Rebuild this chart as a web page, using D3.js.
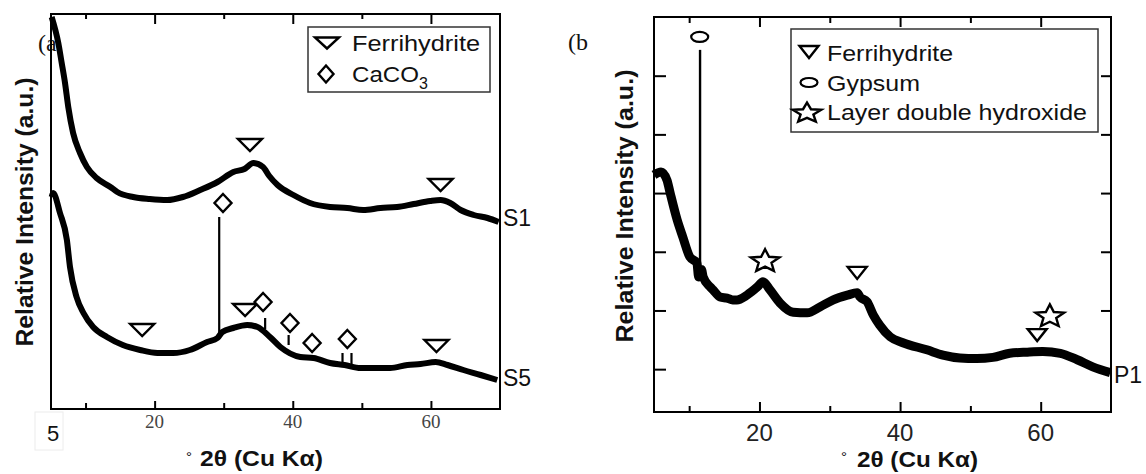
<!DOCTYPE html>
<html>
<head>
<meta charset="utf-8">
<script src="https://cdn.jsdelivr.net/npm/d3@7/dist/d3.min.js"></script>
<style>
body{margin:0;background:#fff;}
text{font-family:"Liberation Sans",Arial,sans-serif;fill:#111;}
</style>
</head>
<body>
<div id="chart"></div>
<script>
// ---- data ----
// panel (a): two XRD traces, 2theta in degrees, intensity in a.u. (offset traces)
var s1Theta  = [5.1, 6.06, 6.55, 7.03, 7.5, 8.2, 9.2, 10.2, 11.6, 13.6, 14.6, 16.9, 19.3, 21.8, 24.1, 26.6, 29.1, 31.4, 33.0, 34.3, 35.7, 36.6, 37.8, 40.1, 42.5, 45.4, 47.9, 50.2, 52.7, 55.1, 57.5, 59.9, 61.4, 62.8, 64.3, 66.2, 68.2, 69.8];
var s1Counts = [392, 366, 346, 326, 302, 276, 256, 242, 231, 222, 217, 212, 210, 209, 212, 219, 227, 237, 240, 246, 242, 233, 224, 214, 206, 202, 201, 199, 201, 202, 205, 208, 209, 206, 199, 194, 191, 187];

var s5Theta  = [5.1, 5.3, 6.3, 7.3, 7.75, 8.7, 9.7, 11.1, 13.1, 15.4, 17.9, 20.4, 22.7, 25.1, 27.6, 29.1, 29.8, 31.4, 33.4, 34.9, 36.7, 38.2, 41.1, 43.0, 45.4, 47.5, 49.8, 51.7, 54.1, 56.6, 58.5, 60.7, 62.4, 64.7, 67.2, 69.6];
var s5Counts = [212, 216, 196, 169, 142, 112, 96, 82, 72, 64, 59, 56, 56, 59, 67, 71, 77, 81, 84, 82, 72, 62, 52, 51, 46, 44, 41, 41, 41, 44, 45, 47, 44, 39, 34, 29];
// sharp calcite reflections on S5: position, foot, top
var s5PeakTheta = [29.35, 36.0, 39.4, 47.2, 48.5];
var s5PeakBase  = [72, 80, 64, 44, 43];
var s5PeakTop   = [192, 91, 74, 56, 56];

// panel (b): P1 trace, counts
var p1Theta  = [5.0, 6.0, 6.85, 7.3, 8.3, 9.1, 10.1, 11.1, 11.35, 11.75, 12.0, 13.0, 13.4, 14.4, 15.4, 16.2, 16.8, 18.2, 19.7, 20.5, 21.5, 22.9, 24.8, 26.8, 28.6, 30.5, 32.5, 33.9, 34.3, 35.3, 36.2, 37.1, 38.6, 40.4, 43.8, 46.1, 48.5, 50.9, 53.2, 55.6, 58.1, 60.3, 62.8, 65.2, 67.4, 69.9];
var p1Counts = [4310, 4360, 4220, 4000, 3540, 3250, 2910, 2810, 2570, 2700, 2570, 2400, 2350, 2230, 2210, 2180, 2180, 2260, 2400, 2490, 2350, 2130, 1970, 1960, 2060, 2180, 2260, 2300, 2230, 2150, 1920, 1750, 1550, 1450, 1330, 1240, 1190, 1180, 1200, 1270, 1290, 1300, 1270, 1160, 1040, 940];
// gypsum reflection
var p1PeakTheta = [11.55];
var p1PeakBase  = [2750];
var p1PeakTop   = [6440];

// phase markers: kind, 2theta, height
var markTypeA  = ["tri", "tri", "dia", "tri", "tri", "dia", "dia", "dia", "dia", "tri"];
var markThetaA = [33.8, 61.4, 29.9, 18.2, 33.1, 35.7, 39.6, 42.8, 47.9, 60.8];
var markLevelA = [264, 224, 206, 79, 99, 107, 86, 66, 70, 63];

var markTypeB  = ["oval", "star", "tri", "tri", "star"];
var markThetaB = [11.5, 20.8, 33.9, 59.5, 61.3];
var markLevelB = [6660, 2860, 2640, 1580, 1920];

// axes and labels
var xMajorTicks = [20, 40, 60];
var xMinorTicks = [10, 30, 50];
var yTicksB = [1000, 2000, 3000, 4000, 5000, 6000];
var legendTypeA = ["tri", "dia"];
var legendTextA = ["Ferrihydrite", "CaCO"];
var legendTypeB = ["tri", "oval", "star"];
var legendTextB = ["Ferrihydrite", "Gypsum", "Layer double hydroxide"];

// ---- drawing ----
var svg = d3.select("#chart").append("svg")
    .attr("width", 1146)
    .attr("height", 474);

var xA = d3.scaleLinear().domain([5, 70]).range([51, 500]);
var yA = d3.scaleLinear().domain([0, 395]).range([409, 14]);
var xB = d3.scaleLinear().domain([5, 70]).range([654, 1111]);
var yB = d3.scaleLinear().domain([270, 7000]).range([412, 17]);

function zip(a, b) {
    return a.map(function(d, i) { return [d, b[i]]; });
}

function markerPath(type, w, h) {
    if (type == "tri") {
        return "M" + (-w/2) + "," + (-h/2) + "L" + (w/2) + "," + (-h/2) + "L0," + (h/2) + "Z";
    }
    if (type == "dia") {
        return "M0," + (-h/2) + "L" + (w/2) + ",0L0," + (h/2) + "L" + (-w/2) + ",0Z";
    }
    // star, stretched sideways like the original figure
    var pts = [];
    for (var i = 0; i < 10; i++) {
        var a = -Math.PI/2 + i*Math.PI/5;
        var r = (i % 2 == 0) ? h/2 : h/2*0.45;
        pts.push([Math.cos(a)*r*(w/h), Math.sin(a)*r + h*0.05]);
    }
    return "M" + pts.join("L") + "Z";
}

function drawMarker(g, type, cx, cy, w, h) {
    if (type == "oval") {
        g.append("ellipse")
            .attr("cx", cx).attr("cy", cy)
            .attr("rx", w/2).attr("ry", h/2)
            .attr("fill", "#fff").attr("stroke", "#000").attr("stroke-width", 2.2);
        return;
    }
    g.append("path")
        .attr("d", markerPath(type, w, h))
        .attr("transform", "translate(" + cx + "," + cy + ")")
        .attr("fill", "#fff")
        .attr("stroke", "#000")
        .attr("stroke-width", 2.4)
        .attr("stroke-linejoin", "miter");
}

function tickAxis(g, axis, y, size) {
    g.append("g")
        .attr("transform", "translate(0," + y + ")")
        .call(axis.tickSize(size))
        .call(function(s) { s.select(".domain").remove(); })
        .selectAll("line").attr("stroke", "#000").attr("stroke-width", 2);
}

// ===== panel (a) =====
var ga = svg.append("g").attr("class", "panel-a");

ga.append("text")
    .attr("x", 38).attr("y", 51)
    .style("font-family", "'Liberation Serif',serif")
    .style("font-size", "24px")
    .text("(a");

// ticks, inward on bottom and top
tickAxis(ga, d3.axisBottom(xA).tickValues(xMajorTicks).tickFormat(""), 409, -8);
tickAxis(ga, d3.axisBottom(xA).tickValues(xMinorTicks).tickFormat(""), 409, -6);
tickAxis(ga, d3.axisTop(xA).tickValues(xMajorTicks).tickFormat(""), 14, -10);
tickAxis(ga, d3.axisTop(xA).tickValues(xMinorTicks).tickFormat(""), 14, -5);

ga.selectAll(".xlab")
    .data(xMajorTicks)
    .enter()
    .append("text")
    .attr("x", function(d) { return xA(d); })
    .attr("y", 428)
    .attr("text-anchor", "middle")
    .style("font-family", "'Liberation Serif',serif")
    .style("font-size", "19px")
    .style("fill", "#444")
    .text(function(d) { return d; });

// the pasted "5" at the left end of the axis
ga.append("rect")
    .attr("x", 35).attr("y", 412).attr("width", 28).attr("height", 38)
    .attr("fill", "none").attr("stroke", "#ececec").attr("stroke-width", 1);
ga.append("text")
    .attr("x", xA(5) + 2).attr("y", 441)
    .attr("text-anchor", "middle")
    .style("font-size", "22px")
    .text("5");

var lineA = d3.line()
    .curve(d3.curveMonotoneX)
    .x(function(d) { return xA(d[0]); })
    .y(function(d) { return yA(d[1]); });

ga.append("path")
    .datum(zip(s1Theta, s1Counts))
    .attr("d", lineA)
    .attr("fill", "none").attr("stroke", "#000")
    .attr("stroke-width", 6).attr("stroke-linejoin", "round");

ga.append("path")
    .datum(zip(s5Theta, s5Counts))
    .attr("d", lineA)
    .attr("fill", "none").attr("stroke", "#000")
    .attr("stroke-width", 6).attr("stroke-linejoin", "round");

s5PeakTheta.forEach(function(t, i) {
    ga.append("line")
        .attr("x1", xA(t)).attr("x2", xA(t))
        .attr("y1", yA(s5PeakBase[i])).attr("y2", yA(s5PeakTop[i]))
        .attr("stroke", "#000").attr("stroke-width", 2.2);
});

markTypeA.forEach(function(type, i) {
    if (type == "tri") drawMarker(ga, type, xA(markThetaA[i]), yA(markLevelA[i]), 24, 12);
    else drawMarker(ga, type, xA(markThetaA[i]), yA(markLevelA[i]), 17, 18);
});

// frame
ga.append("rect")
    .attr("x", xA(5)).attr("y", yA(395))
    .attr("width", xA(70) - xA(5)).attr("height", yA(0) - yA(395))
    .attr("fill", "none").attr("stroke", "#000").attr("stroke-width", 2);

ga.append("text").attr("x", 503).attr("y", 226).style("font-size", "23px").text("S1");
ga.append("text").attr("x", 503).attr("y", 386).style("font-size", "23px").text("S5");

// legend
ga.append("rect")
    .attr("x", 308).attr("y", 27).attr("width", 182).attr("height", 65)
    .attr("fill", "#fff").attr("stroke", "#333").attr("stroke-width", 1.5);
legendTypeA.forEach(function(type, i) {
    var cy = 43 + i*31;
    if (type == "tri") drawMarker(ga, type, 327, cy, 24, 11);
    else drawMarker(ga, type, 326, cy, 15, 17);
    var t = ga.append("text").attr("x", 352).attr("y", cy + 8).style("font-size", "22px");
    if (i == 0) {
        t.attr("textLength", 128).attr("lengthAdjust", "spacingAndGlyphs").text(legendTextA[i]);
    } else {
        t.append("tspan").attr("textLength", 67).attr("lengthAdjust", "spacingAndGlyphs").text(legendTextA[i]);
        t.append("tspan").attr("dy", 7).style("font-size", "16px").text("3");
    }
});

// axis titles
ga.append("text")
    .attr("transform", "translate(33,212) rotate(-90)")
    .attr("text-anchor", "middle")
    .attr("textLength", 269).attr("lengthAdjust", "spacingAndGlyphs")
    .style("font-size", "24px").style("font-weight", "bold")
    .text("Relative Intensity (a.u.)");
ga.append("text")
    .attr("x", 186).attr("y", 462)
    .style("font-size", "15px")
    .text("°");
ga.append("text")
    .attr("x", 200).attr("y", 466)
    .attr("textLength", 123).attr("lengthAdjust", "spacingAndGlyphs")
    .style("font-size", "22px").style("font-weight", "bold")
    .text("2θ (Cu Kα)");

// ===== panel (b) =====
var gb = svg.append("g").attr("class", "panel-b");

gb.append("text")
    .attr("x", 568).attr("y", 50)
    .style("font-family", "'Liberation Serif',serif")
    .style("font-size", "24px")
    .text("(b");

tickAxis(gb, d3.axisBottom(xB).tickValues(xMajorTicks).tickFormat(""), 412, -10);
tickAxis(gb, d3.axisBottom(xB).tickValues(xMinorTicks).tickFormat(""), 412, -6);
tickAxis(gb, d3.axisTop(xB).tickValues(xMajorTicks).tickFormat(""), 17, -10);
tickAxis(gb, d3.axisTop(xB).tickValues(xMinorTicks).tickFormat(""), 17, -6);

gb.append("g")
    .attr("transform", "translate(" + xB(5) + ",0)")
    .call(d3.axisLeft(yB).tickValues(yTicksB).tickSize(-12).tickFormat(""))
    .call(function(s) { s.select(".domain").remove(); })
    .selectAll("line").attr("stroke", "#000").attr("stroke-width", 2);
gb.append("g")
    .attr("transform", "translate(" + xB(70) + ",0)")
    .call(d3.axisRight(yB).tickValues(yTicksB).tickSize(-10).tickFormat(""))
    .call(function(s) { s.select(".domain").remove(); })
    .selectAll("line").attr("stroke", "#000").attr("stroke-width", 2);

gb.selectAll(".xlab")
    .data(xMajorTicks)
    .enter()
    .append("text")
    .attr("x", function(d) { return xB(d); })
    .attr("y", 441)
    .attr("text-anchor", "middle")
    .style("font-size", "24px")
    .style("fill", "#222")
    .text(function(d) { return d; });

var lineB = d3.line()
    .curve(d3.curveMonotoneX)
    .x(function(d) { return xB(d[0]); })
    .y(function(d) { return yB(d[1]); });

p1PeakTheta.forEach(function(t, i) {
    gb.append("line")
        .attr("x1", xB(t)).attr("x2", xB(t))
        .attr("y1", yB(p1PeakBase[i])).attr("y2", yB(p1PeakTop[i]))
        .attr("stroke", "#000").attr("stroke-width", 2.4);
});

gb.append("path")
    .datum(zip(p1Theta, p1Counts))
    .attr("d", lineB)
    .attr("fill", "none").attr("stroke", "#000")
    .attr("stroke-width", 9).attr("stroke-linejoin", "round");

markTypeB.forEach(function(type, i) {
    var cx = xB(markThetaB[i]), cy = yB(markLevelB[i]);
    if (type == "oval") drawMarker(gb, type, cx, cy, 17, 10);
    else if (type == "star") drawMarker(gb, type, cx, cy, 30, 24);
    else drawMarker(gb, type, cx, cy, 19, 12);
});

gb.append("rect")
    .attr("x", xB(5)).attr("y", yB(7000))
    .attr("width", xB(70) - xB(5)).attr("height", yB(270) - yB(7000))
    .attr("fill", "none").attr("stroke", "#000").attr("stroke-width", 2);

gb.append("text").attr("x", 1114).attr("y", 383).style("font-size", "23px").text("P1");

// legend
var legendLenB = [126, 93, 260];
gb.append("rect")
    .attr("x", 791).attr("y", 29).attr("width", 307).attr("height", 103)
    .attr("fill", "#fff").attr("stroke", "#333").attr("stroke-width", 1.5);
legendTypeB.forEach(function(type, i) {
    var cy = 53 + i*29.5;
    if (type == "oval") drawMarker(gb, type, 809, cy, 17, 9);
    else if (type == "star") drawMarker(gb, type, 807, cy, 30, 21);
    else drawMarker(gb, type, 809, cy - 1, 19, 12);
    gb.append("text")
        .attr("x", 827).attr("y", cy + 8)
        .attr("textLength", legendLenB[i]).attr("lengthAdjust", "spacingAndGlyphs")
        .style("font-size", "22px")
        .text(legendTextB[i]);
});

gb.append("text")
    .attr("transform", "translate(633,206) rotate(-90)")
    .attr("text-anchor", "middle")
    .attr("textLength", 273).attr("lengthAdjust", "spacingAndGlyphs")
    .style("font-size", "24px").style("font-weight", "bold")
    .text("Relative Intensity (a.u.)");
gb.append("text")
    .attr("x", 841).attr("y", 462)
    .style("font-size", "15px")
    .text("°");
gb.append("text")
    .attr("x", 857).attr("y", 467)
    .attr("textLength", 121).attr("lengthAdjust", "spacingAndGlyphs")
    .style("font-size", "22px").style("font-weight", "bold")
    .text("2θ (Cu Kα)");
</script>
</body>
</html>
